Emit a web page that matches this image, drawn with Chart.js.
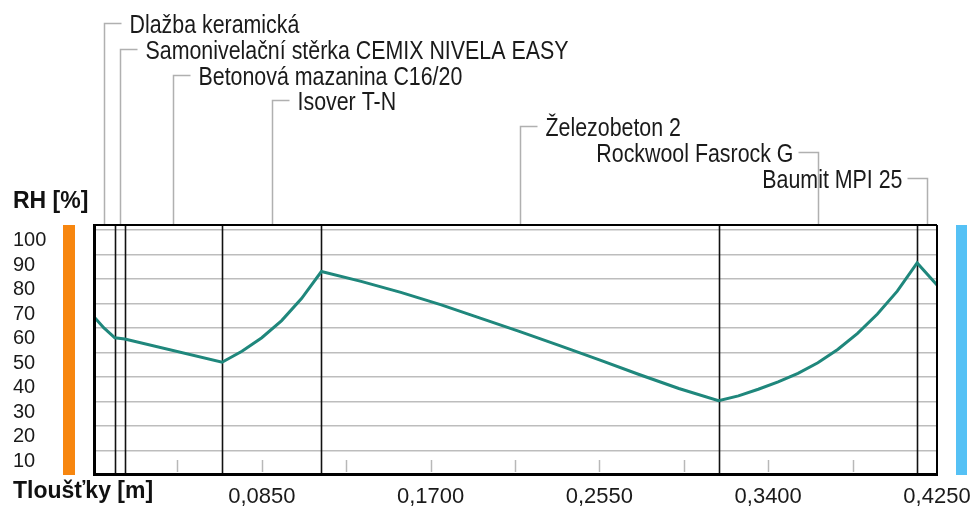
<!DOCTYPE html>
<html>
<head>
<meta charset="utf-8">
<script src="https://cdn.jsdelivr.net/npm/chart.js@4/dist/chart.umd.min.js"></script>
<style>
  html, body { margin: 0; padding: 0; background: #ffffff; }
  #wrap { width: 975px; height: 506px; }
</style>
</head>
<body>
<div id="wrap"><canvas id="chart" width="975" height="506"></canvas></div>
<script>
// Wall/floor build-up, outside to inside (thickness in metres)
const layerNames = [
  'Dlažba keramická',
  'Samonivelační stěrka CEMIX NIVELA EASY',
  'Betonová mazanina C16/20',
  'Isover T-N',
  'Železobeton 2',
  'Rockwool Fasrock G',
  'Baumit MPI 25'
];
const layerThickness = [0.011, 0.005, 0.049, 0.05, 0.2, 0.1, 0.01];

// Relative humidity profile through the construction
const depthPoints = [0, 0.0055, 0.011, 0.016, 0.065, 0.075, 0.085, 0.095, 0.105, 0.115,
  0.135, 0.155, 0.175, 0.195, 0.215, 0.235, 0.255, 0.275, 0.295, 0.315,
  0.325, 0.335, 0.345, 0.355, 0.365, 0.375, 0.385, 0.395, 0.405, 0.415, 0.425];
const rhPoints = [65, 60, 56, 55.5, 46, 50.5, 56, 63, 72, 83,
  79, 74.5, 69.5, 64, 58.5, 52.8, 47, 41, 35.3, 30.3,
  32.3, 35, 38, 41.5, 45.8, 51.2, 57.8, 65.7, 75, 86.5, 77.5];

// Axis ticks
const xTickValues = [0.0425, 0.085, 0.1275, 0.17, 0.2125, 0.255, 0.2975, 0.34, 0.3825, 0.425];
const xTickLabels = ['', '0,0850', '', '0,1700', '', '0,2550', '', '0,3400', '', '0,4250'];
const yTickValues = [10, 20, 30, 40, 50, 60, 70, 80, 90, 100];
const yTickLabels = ['10', '20', '30', '40', '50', '60', '70', '80', '90', '100'];

const X_MAX = 0.425;
const Y_MAX = 102;
const REGULAR = "'Liberation Sans', Arial, sans-serif";
const NAME_SQUEEZE = 0.855;   // layer names are set in a condensed cut

const decorPlugin = {
  id: 'profileDecor',
  beforeDatasetsDraw(chart) {
    const { ctx, chartArea: a, scales: { x } } = chart;
    ctx.save();
    // short tick marks standing on the bottom edge
    ctx.strokeStyle = '#b8b8b8';
    ctx.lineWidth = 1.5;
    x.ticks.forEach(t => {
      if (t.value <= 0 || t.value >= X_MAX - 1e-9) return;
      const px = Math.round(x.getPixelForValue(t.value)) + 0.5;
      ctx.beginPath();
      ctx.moveTo(px, a.bottom - 3);
      ctx.lineTo(px, a.bottom - 15);
      ctx.stroke();
    });
    // layer boundaries
    ctx.strokeStyle = '#111111';
    ctx.lineWidth = 1.6;
    let acc = 0;
    layerThickness.slice(0, -1).forEach(t => {
      acc += t;
      const px = Math.round(x.getPixelForValue(acc)) + 0.5;
      ctx.beginPath();
      ctx.moveTo(px, a.top);
      ctx.lineTo(px, a.bottom);
      ctx.stroke();
    });
    ctx.restore();
  },
  afterDatasetsDraw(chart) {
    const { ctx, chartArea: a, scales: { x } } = chart;
    ctx.save();
    // frame
    ctx.fillStyle = '#000000';
    ctx.fillRect(a.left, a.top - 1, a.right - a.left, 2);
    ctx.fillRect(a.right - 1, a.top, 2, a.bottom - a.top);
    ctx.fillRect(a.left, a.top, 3, a.bottom - a.top + 1);
    ctx.fillRect(a.left, a.bottom - 2, a.right - a.left + 1, 3);

    // boundary condition bars: exterior (left) and interior (right)
    ctx.fillStyle = '#f7860f';
    ctx.fillRect(a.left - 30, a.top, 12, a.bottom - a.top);
    ctx.fillStyle = '#55c1f5';
    ctx.fillRect(a.right + 19, a.top, 11, a.bottom - a.top);

    // layer names with leader lines
    ctx.font = '25px ' + REGULAR;
    ctx.strokeStyle = '#b0b0b0';
    ctx.lineWidth = 1.5;
    ctx.fillStyle = '#1a1a1a';
    ctx.textBaseline = 'alphabetic';
    let acc = 0;
    layerNames.forEach((name, i) => {
      const cx = Math.round(x.getPixelForValue(acc + layerThickness[i] / 2)) + 0.5;
      acc += layerThickness[i];
      const ly = Math.round(23 + 25.8 * i) + 0.5;
      const w = ctx.measureText(name).width * NAME_SQUEEZE;
      const toRight = cx + 25 + w < chart.width - 5;
      ctx.beginPath();
      ctx.moveTo(cx, a.top - 1);
      ctx.lineTo(cx, ly);
      ctx.lineTo(toRight ? cx + 17 : cx - 20, ly);
      ctx.stroke();
      ctx.save();
      ctx.translate(toRight ? cx + 25 : cx - 25 - w, ly + 9.5);
      ctx.scale(NAME_SQUEEZE, 1);
      ctx.textAlign = 'left';
      ctx.fillText(name, 0, 0);
      ctx.restore();
    });

    // axis titles
    ctx.fillStyle = '#111111';
    ctx.textAlign = 'left';
    ctx.font = 'bold 23px ' + REGULAR;
    ctx.fillText('RH [%]', 13, 208);
    ctx.fillText('Tloušťky [m]', 13, 498);
    ctx.restore();
  }
};

new Chart(document.getElementById('chart'), {
  type: 'line',
  data: {
    datasets: [{
      data: depthPoints.map((d, i) => ({ x: d, y: rhPoints[i] })),
      borderColor: '#1f877c',
      borderWidth: 3,
      pointRadius: 0,
      tension: 0,
      fill: false
    }]
  },
  options: {
    responsive: false,
    animation: false,
    devicePixelRatio: 1,
    layout: { padding: { left: 13, right: 38, top: 225, bottom: 0 } },
    plugins: { legend: { display: false }, tooltip: { enabled: false }, title: { display: false } },
    scales: {
      x: {
        type: 'linear',
        min: 0,
        max: X_MAX,
        afterBuildTicks: s => { s.ticks = xTickValues.map(v => ({ value: v })); },
        afterFit: s => { s.height = 31; s.paddingLeft = 0; s.paddingRight = 0; },
        grid: { display: false },
        border: { display: false },
        ticks: {
          autoSkip: false,
          maxRotation: 0,
          padding: 1,
          color: '#1a1a1a',
          font: { family: REGULAR, size: 22 },
          callback: (v, i) => xTickLabels[i]
        }
      },
      y: {
        min: 0,
        max: Y_MAX,
        afterBuildTicks: s => { s.ticks = yTickValues.map(v => ({ value: v })); },
        afterFit: s => { s.width = 80; s.paddingTop = 0; s.paddingBottom = 0; },
        grid: { color: '#bdbdbd', lineWidth: 1.5, drawTicks: false },
        border: { display: false },
        ticks: {
          crossAlign: 'far',
          labelOffset: 11,
          color: '#1a1a1a',
          font: { family: REGULAR, size: 20 },
          callback: (v, i) => yTickLabels[i]
        }
      }
    }
  },
  plugins: [decorPlugin]
});
</script>
</body>
</html>
